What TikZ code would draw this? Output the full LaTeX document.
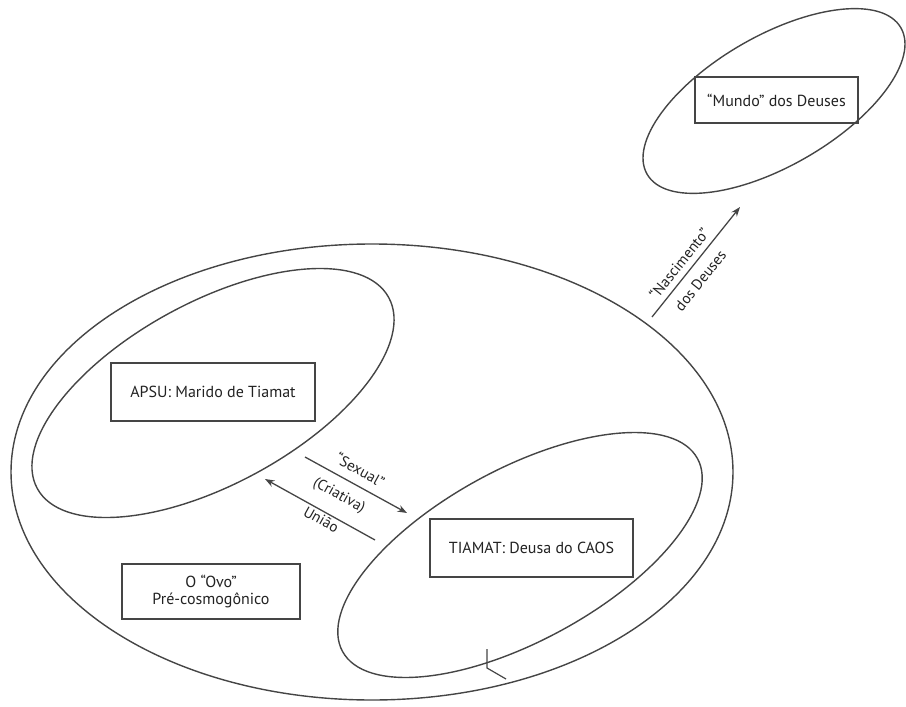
\documentclass[tikz,border=0pt]{standalone}
\usepackage{fontspec}
\setmainfont{PT Sans}
\usetikzlibrary{shapes.geometric,arrows.meta}
\definecolor{ink}{HTML}{454545}
\definecolor{txt}{HTML}{222222}
\tikzset{
  ring/.style={draw=ink, line width=1.4pt, ellipse, inner sep=0pt},
  label box/.style={draw=ink, line width=1.3pt, rectangle, inner sep=0pt,
    text=txt, font=\fontsize{16}{19}\selectfont, align=center},
  link/.style={draw=ink, line width=1.3pt, -{Stealth[length=9.5pt,width=7pt]}},
  tag/.style={text=txt, inner sep=0pt, align=center}
}
\begin{document}
\begin{tikzpicture}[x=1pt,y=-1pt]
  \useasboundingbox (0,0) rectangle (906,707);

  % enclosing "egg" and the inner realms
  \node[ring, minimum width=722pt, minimum height=456pt] (egg) at (372,472) {};
  \node[ring, minimum width=400pt, minimum height=182pt, rotate=28.5] (apsuring) at (213,393) {};
  \node[ring, minimum width=404pt, minimum height=172pt, rotate=28.5] (tiamatring) at (520,555) {};
  \node[ring, minimum width=293pt, minimum height=130pt, rotate=30] (godsring) at (774,101) {};

  % labelled boxes
  \node[label box, minimum width=204pt, minimum height=58pt] (apsu) at (213,392) {APSU: Marido de Tiamat};
  \node[label box, minimum width=203pt, minimum height=58pt] (tiamat) at (531.5,548) {TIAMAT: Deusa do CAOS};
  \node[label box, minimum width=163pt, minimum height=46pt] (gods) at (776.5,100) {“Mundo” dos Deuses};
  \node[label box, minimum width=178pt, minimum height=55pt] (ovo) at (211,591.5) {O “Ovo”\\[-2pt]Pré-cosmogônico};

  % union arrows between Apsu and Tiamat
  \coordinate (u1a) at (305,457);
  \coordinate (u1b) at (407,513);
  \coordinate (u2a) at (375,540);
  \coordinate (u2b) at (265,479);
  \draw[link] (u1a) -- (u1b);
  \draw[link] (u2a) -- (u2b);
  \node[tag, rotate=-29, font=\fontsize{15}{31}\selectfont] (union) at (340,494)
    {\hspace*{12pt}“Sexual”\\(Criativa)\\União\hspace*{8pt}};

  % birth of the gods
  \coordinate (b1) at (652,317);
  \coordinate (b2) at (740,207);
  \draw[link] (b1) -- (b2);
  \node[tag, rotate=51.3, font=\fontsize{15}{27}\selectfont] (birth) at (689.5,272)
    {“Nascimento”\\dos Deuses};

  % open tip on the lower rim of Tiamat's realm
  \coordinate (tip) at (487,668);
  \draw[ink, line width=1.2pt] (487,649) -- (tip) -- (506,679);
\end{tikzpicture}
\end{document}
